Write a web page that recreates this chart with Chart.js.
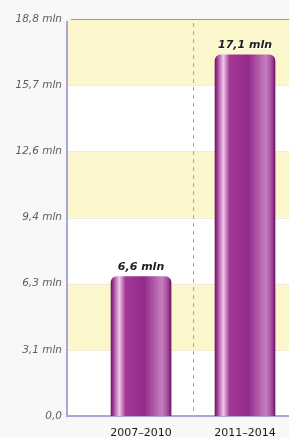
<!DOCTYPE html>
<html><head><meta charset="utf-8">
<script src="https://cdn.jsdelivr.net/npm/chart.js@4"></script>
<style>html,body{margin:0;padding:0;background:#f8f8f8;}#wrap{width:289px;height:437px;}</style>
</head><body><div id="wrap"><canvas id="c" width="289" height="437"></canvas></div>
<script>
const categories = ['2007–2010', '2011–2014'];
const values = [6.6, 17.1];
const valueLabels = ['6,6 mln', '17,1 mln'];
const tickValues = [0, 3.1333, 6.2667, 9.4, 12.5333, 15.6667, 18.8];
const tickLabels = ['0,0', '3,1 mln', '6,3 mln', '9,4 mln', '12,6 mln', '15,7 mln', '18,8 mln'];
const positions = [1, 2];

const bgPlugin = {
  id: 'bg',
  beforeDatasetsDraw(chart) {
    const {ctx, chartArea: a, scales: {x, y}} = chart;
    ctx.save();
    ctx.fillStyle = '#ffffff';
    ctx.fillRect(a.left, a.top, a.right - a.left, a.bottom - a.top);
    ctx.fillStyle = '#fbf6cc';
    for (let i = 1; i < tickValues.length - 1; i += 2) {
      const y1 = y.getPixelForValue(tickValues[i + 1]);
      const y0 = y.getPixelForValue(tickValues[i]);
      ctx.fillRect(a.left, y1, a.right - a.left, y0 - y1);
    }
    ctx.strokeStyle = '#f0ecd6';
    ctx.lineWidth = 1;
    for (let i = 1; i < tickValues.length - 1; i++) {
      const yy = Math.round(y.getPixelForValue(tickValues[i])) + 0.5;
      ctx.beginPath(); ctx.moveTo(a.left, yy); ctx.lineTo(a.right, yy); ctx.stroke();
    }
    ctx.strokeStyle = '#9a9a9a';
    const yt = Math.round(y.getPixelForValue(tickValues[tickValues.length - 1])) + 0.5;
    ctx.beginPath(); ctx.moveTo(a.left + 4, yt); ctx.lineTo(a.right, yt); ctx.stroke();
    const xd = Math.round(x.getPixelForValue(1.5)) + 0.5;
    ctx.strokeStyle = '#a8a8a8';
    ctx.setLineDash([4, 4]);
    ctx.beginPath(); ctx.moveTo(xd, a.top + 4); ctx.lineTo(xd, a.bottom); ctx.stroke();
    ctx.setLineDash([]);
    ctx.strokeStyle = '#aaa6d8';
    ctx.lineWidth = 2;
    ctx.beginPath(); ctx.moveTo(a.left, a.top + 2); ctx.lineTo(a.left, a.bottom); ctx.lineTo(a.right, a.bottom); ctx.stroke();
    ctx.restore();
  },
  afterDatasetsDraw(chart) {
    const {ctx} = chart;
    const meta = chart.getDatasetMeta(0);
    ctx.save();
    ctx.font = 'italic bold 11px "DejaVu Sans"';
    ctx.textAlign = 'center';
    ctx.textBaseline = 'bottom';
    meta.data.forEach((el, i) => {
      ctx.fillStyle = '#ffffff';
      ctx.fillText(valueLabels[i], el.x + 1, el.y - 3);
      ctx.fillStyle = '#1e1e1e';
      ctx.fillText(valueLabels[i], el.x, el.y - 4);
    });
    ctx.restore();
  }
};

function barGradient(context) {
  const chart = context.chart;
  const xs = chart.scales && chart.scales.x;
  if (!xs || !chart.chartArea) return '#9b2d8f';
  const cx = xs.getPixelForValue(positions[context.dataIndex]);
  if (!isFinite(cx)) return '#9b2d8f';
  const w = 30;
  const g = chart.ctx.createLinearGradient(cx - w, 0, cx + w, 0);
  g.addColorStop(0, '#6e1466');
  g.addColorStop(0.06, '#b45aa8');
  g.addColorStop(0.14, '#efc6ea');
  g.addColorStop(0.24, '#a33a97');
  g.addColorStop(0.55, '#932a8b');
  g.addColorStop(0.85, '#c77fbe');
  g.addColorStop(0.95, '#a04796');
  g.addColorStop(1, '#6e1466');
  return g;
}

new Chart(document.getElementById('c'), {
  type: 'bar',
  data: {
    datasets: [{
      data: positions.map((p, i) => ({x: p, y: values[i]})),
      backgroundColor: barGradient,
      borderWidth: 0,
      borderRadius: {topLeft: 6, topRight: 6, bottomLeft: 0, bottomRight: 0},
      borderSkipped: false,
      barThickness: 60
    }]
  },
  options: {
    responsive: false,
    animation: false,
    devicePixelRatio: 1,
    layout: {padding: {top: 19, right: 0, left: 0, bottom: 0}},
    plugins: {legend: {display: false}, tooltip: {enabled: false}},
    scales: {
      x: {
        type: 'linear', min: 0.288, max: 2.423, offset: false, bounds: 'data',
        grid: {display: false, drawTicks: false, offset: false}, border: {display: false},
        afterBuildTicks(s) { s.ticks = positions.map(v => ({value: v})); },
        afterFit(s) { s.height = 21; },
        ticks: {
          autoSkip: false, maxRotation: 0, padding: 11,
          color: '#1a1a1a', font: {family: 'DejaVu Sans', size: 11},
          callback(v) { const i = positions.indexOf(v); return i >= 0 ? categories[i] : ''; }
        }
      },
      y: {
        min: 0, max: 18.8,
        grid: {display: false, drawTicks: false}, border: {display: false},
        afterBuildTicks(s) { s.ticks = tickValues.map(v => ({value: v})); },
        afterFit(s) { s.width = 67; },
        ticks: {
          padding: 5, color: '#606060',
          font: {family: 'DejaVu Sans', size: 10.5, style: 'italic'},
          callback(v) { const i = tickValues.indexOf(v); return i >= 0 ? tickLabels[i] : ''; }
        }
      }
    }
  },
  plugins: [bgPlugin]
});
</script></body></html>
